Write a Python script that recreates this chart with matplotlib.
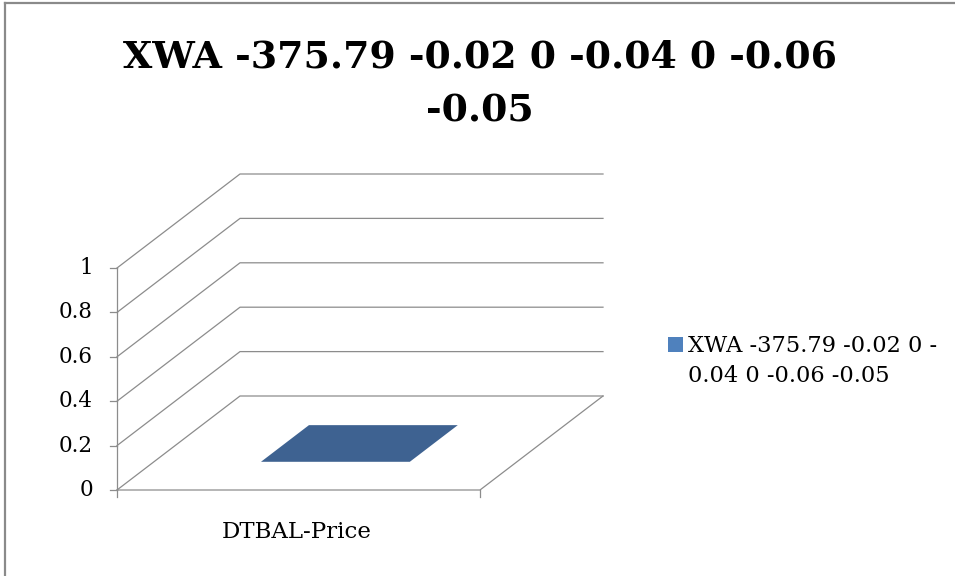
import matplotlib
matplotlib.use('Agg')
import matplotlib.pyplot as plt
from matplotlib.patches import Polygon

# chart data
title = 'XWA -375.79 -0.02 0 -0.04 0 -0.06\n-0.05'
series_name = 'XWA -375.79 -0.02 0 -\n0.04 0 -0.06 -0.05'
categories = ['DTBAL-Price']
values = [0]
y_ticks = [0, 0.2, 0.4, 0.6, 0.8, 1]
y_labels = ['0', '0.2', '0.4', '0.6', '0.8', '1']

plt.rcParams['font.family'] = ['DejaVu Serif']

# 3d box layout in pixels
X0, Y0 = 117, 490      # front-left corner of the floor
W, H = 363, 222        # floor width, height of value 1
DX, DY = 123, 94       # depth offset of the back wall
GRID = '#8c8c8c'
BAR_TOP = '#3e6291'
BAR_FRONT = '#4f81bd'

def proj(xf, v, d):
    # xf: fraction along category axis, v: value, d: depth fraction
    return X0 + xf * W + d * DX, Y0 - v / max(y_ticks) * H - d * DY

fig = plt.figure(figsize=(9.55, 5.76), dpi=100)
ax = fig.add_axes([0, 0, 1, 1])
ax.set_xlim(0, 955)
ax.set_ylim(576, 0)
ax.axis('off')

# outer frame (left and top edges show)
ax.plot([5, 5], [576, 3], color='#8a8a8a', lw=1.6)
ax.plot([5, 955], [3, 3], color='#8a8a8a', lw=1.6)

# side wall diagonals + back wall gridlines
for t in y_ticks:
    a = proj(0, t, 0)
    b = proj(0, t, 1)
    c = proj(1, t, 1)
    ax.plot([a[0], b[0], c[0]], [a[1], b[1], c[1]], color=GRID, lw=0.9)

# floor front and right edges
fl = [proj(0, 0, 0), proj(1, 0, 0), proj(1, 0, 1)]
ax.plot([p[0] for p in fl], [p[1] for p in fl], color=GRID, lw=0.9)

# value axis with ticks
top = proj(0, max(y_ticks), 0)
ax.plot([X0, X0], [Y0, top[1]], color=GRID, lw=0.9)
for t, lab in zip(y_ticks, y_labels):
    x, y = proj(0, t, 0)
    ax.plot([x - 7, x], [y, y], color=GRID, lw=0.9)
    ax.text(x - 24, y, lab, ha='right', va='center', fontsize=15.5)

# category axis ticks and label
n = len(categories)
for i in range(n + 1):
    x, y = proj(i / n, 0, 0)
    ax.plot([x, x], [y, y + 7], color=GRID, lw=0.9)
for i, cat in enumerate(categories):
    x, y = proj((i + 0.5) / n, 0, 0)
    ax.text(x - 2, y + 42, cat, ha='center', va='center', fontsize=16.5)

# bars: front face then top face
bw, bd0, bd1 = 0.41, 0.30, 0.69
for i, v in enumerate(values):
    x_l = (i + 0.5) / n - bw / 2
    x_r = x_l + bw
    front = [proj(x_l, 0, bd0), proj(x_r, 0, bd0), proj(x_r, v, bd0), proj(x_l, v, bd0)]
    ax.add_patch(Polygon(front, closed=True, facecolor=BAR_FRONT, edgecolor='none'))
    top_face = [proj(x_l, v, bd0), proj(x_r, v, bd0), proj(x_r, v, bd1), proj(x_l, v, bd1)]
    ax.add_patch(Polygon(top_face, closed=True, facecolor=BAR_TOP, edgecolor='none'))

# title
ax.text(480, 84, title, ha='center', va='center', fontsize=27.3, fontweight='bold',
        linespacing=1.6)

# legend
ax.add_patch(plt.Rectangle((668, 337), 15, 15, facecolor=BAR_FRONT, edgecolor='none'))
ax.text(688, 361, series_name, ha='left', va='center', fontsize=16.2, linespacing=1.5)

fig.savefig('out.png', dpi=100)
